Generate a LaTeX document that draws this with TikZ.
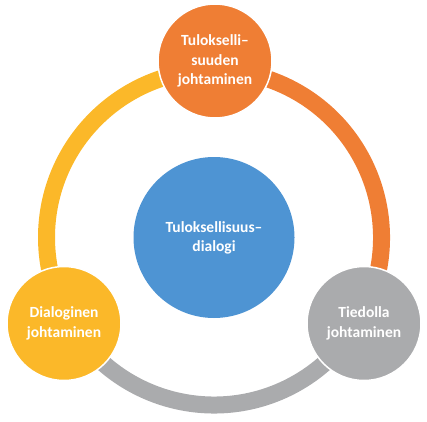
\documentclass[tikz,border=0pt]{standalone}
\usepackage{fontspec}
\setsansfont{Carlito}
\usepackage{tikz}
\usetikzlibrary{calc}
\definecolor{orng}{HTML}{EF7E34}
\definecolor{ylw}{HTML}{FBB829}
\definecolor{gry}{HTML}{AAABAD}
\definecolor{blu}{HTML}{4E94D3}
\tikzstyle{ball} = [circle, minimum size=114pt, inner sep=0pt, draw=white, line width=1.5pt, text=white, align=center, font=\sffamily\bfseries\fontsize{15.5}{19.5}\selectfont]
\tikzstyle{core} = [circle, minimum size=161pt, inner sep=0pt, fill=blu, text=white, align=center, font=\sffamily\bfseries\fontsize{15.5}{19}\selectfont]
\tikzstyle{ring} = [line width=17pt]

\begin{document}
\begin{tikzpicture}[x=1pt,y=1pt]
	\useasboundingbox (0,0) rectangle (427,421);
	\coordinate (C) at (214,183.5);
	\coordinate (rT) at ($(C)+(90:167.5)$);
	\coordinate (rD) at ($(C)+(210:167.5)$);
	\coordinate (rI) at ($(C)+(330:167.5)$);
	\draw [ring, ylw](rT) arc[start angle=90, end angle=210, radius=167.5];
	\draw [ring, gry](rD) arc[start angle=210, end angle=330, radius=167.5];
	\draw [ring, orng](rI) arc[start angle=-30, end angle=90, radius=167.5];
	\node (TD) [core] at (C) {Tuloksellisuus--\\dialogi};
	\node (TJ) [ball, fill=orng] at (215,360) {Tulokselli--\\suuden\\johtaminen};
	\node (DJ) [ball, fill=ylw] at (64,97.5) {Dialoginen\\johtaminen};
	\node (TiJ) [ball, fill=gry] at (364,97.5) {Tiedolla\\johtaminen};
\end{tikzpicture}
\end{document}
